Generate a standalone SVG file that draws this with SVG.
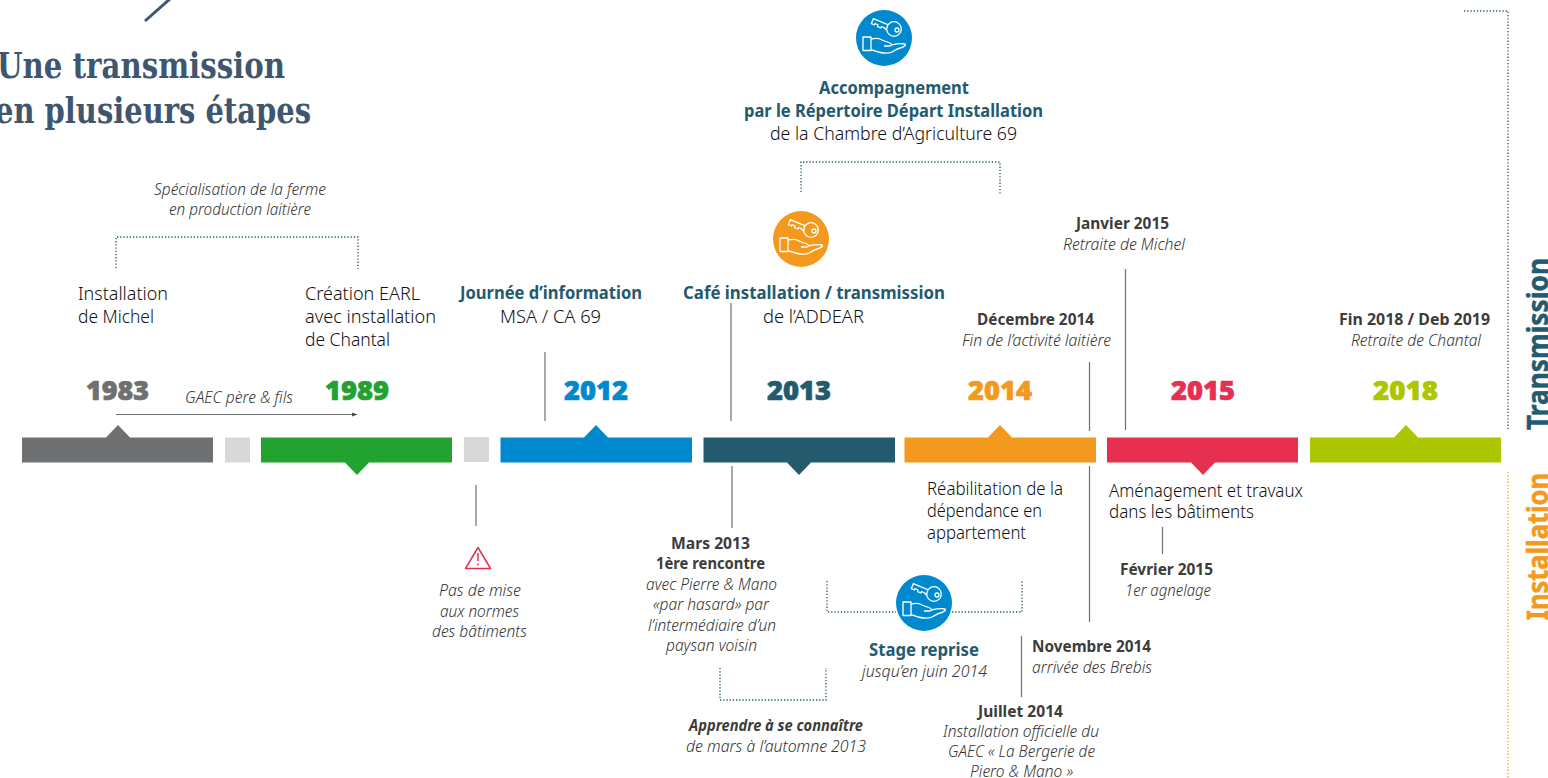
<svg xmlns="http://www.w3.org/2000/svg" xmlns:xlink="http://www.w3.org/1999/xlink" width="1548" height="778" viewBox="0 0 1548 778">
<style>
text{font-family:"Noto Sans","Liberation Sans",sans-serif;font-size:18px;fill:#111;font-weight:300}
.title{font-family:"DejaVu Serif",serif;font-size:35px;font-weight:700;fill:#3f5671}
.h{font-weight:700;fill:#235a6e}
.b{font-weight:700;fill:#3c3c3b;font-size:15.5px}
.i{font-style:italic;fill:#333;font-size:15.5px}
.bi{font-style:italic;font-weight:700;fill:#3c3c3b;font-size:15.5px}
.y{font-size:27px;font-weight:900;stroke-width:.7}
.side{font-weight:700;font-size:28px;stroke-width:.5}
.dot{fill:none;stroke:#235a6e;stroke-width:1.300;stroke-dasharray:1.300 1.900}
.ln{fill:none;stroke:#6f7072;stroke-width:1.200}
.ic{fill:none;stroke:#fff;stroke-width:1.300;stroke-linejoin:round}
</style>
<defs>
<marker id="ah" markerWidth="5" markerHeight="5" refX="4" refY="2.500" orient="auto"><path d="M0 0.800L4 2.500L0 4.200z" fill="#3c3c3b"/></marker>
<g id="key">
<rect x="-21" y="-1" width="8" height="13.500" class="ic"/>
<path class="ic" d="M-13 1C-8 0-5 0-2 2C0 3 3 4 6 5C8 6 8 8 5 8L0 8M7 7C12 6 17 5 21 6C22 7 21 8 19 9C15 10 11 12 8 14C4 16-2 15-6 14C-9 13-11 12-13 12"/>
<circle class="ic" cx="10" cy="-9" r="7.300"/><circle class="ic" cx="13" cy="-8" r="2"/>
<path class="ic" d="M3.800-13.300L-10.700-19.300L-12.700-14.300L-9.500-13L-9-14.500L-6-13L-6.500-11.300L-3-10L-2.500-11.500L0-10.500L2.400-8"/>
</g>
</defs>

<g id="title">
<text class="title" x="-3" y="78" textLength="288" lengthAdjust="spacingAndGlyphs">Une transmission</text>
<text class="title" x="-5" y="123" textLength="316" lengthAdjust="spacingAndGlyphs">en plusieurs étapes</text>
</g>

<g id="connectors">
<path d="M145 21L171 -2" fill="none" stroke="#3f5671" stroke-width="3"/>
<path class="dot" d="M116 268V237H358V269"/>
<path class="dot" d="M801 192V162H1000V194"/>
<path class="dot" d="M827 581V612H896M952 612H1022V581"/>
<path class="dot" d="M720 668V700H826V668"/>
<path class="dot" d="M1464 11H1508V430"/>
<path class="dot" d="M1508 472V778" style="stroke:#f39a1e"/>
<path class="ln" d="M116 414.500H357" marker-end="url(#ah)"/>
<path class="ln" d="M545 352V421M731 303V421M1089.500 362V431M1125.500 269V430M732 466V528M476 485V526M1089.500 466V622M1162.500 527V554M1021.500 636V697"/>
</g>

<g id="bar-1983"><path fill="#6f7072" d="M22 437.500H106L118 425L130 437.500H213V462.500H22z"/><text class="y" style="fill:#6f7072;stroke:#6f7072" x="86" y="400" textLength="63" lengthAdjust="spacingAndGlyphs">1983</text></g>
<g id="gap-1"><rect x="225" y="437.500" width="25" height="25" fill="#d7d8da"/></g>
<g id="bar-1989"><path fill="#22a32f" d="M261 437.500H452V462.500H369L357 475L345 462.500H261z"/><text class="y" style="fill:#22a32f;stroke:#22a32f" x="325" y="400" textLength="64" lengthAdjust="spacingAndGlyphs">1989</text></g>
<g id="gap-2"><rect x="464" y="437" width="25" height="25" fill="#d7d8da"/></g>
<g id="bar-2012"><path fill="#0089cf" d="M500.500 437.500H584L596 425L608 437.500H692V462.500H500.500z"/><text class="y" style="fill:#0089cf;stroke:#0089cf" x="564" y="400" textLength="64" lengthAdjust="spacingAndGlyphs">2012</text></g>
<g id="bar-2013"><path fill="#235a6e" d="M703.500 437.500H895V462.500H811L799 475L787 462.500H703.500z"/><text class="y" style="fill:#235a6e;stroke:#235a6e" x="767" y="400" textLength="64" lengthAdjust="spacingAndGlyphs">2013</text></g>
<g id="bar-2014"><path fill="#f39a1e" d="M904.500 437.500H988L1000 425L1012 437.500H1096V462.500H904.500z"/><text class="y" style="fill:#f39a1e;stroke:#f39a1e" x="968" y="400" textLength="64" lengthAdjust="spacingAndGlyphs">2014</text></g>
<g id="bar-2015"><path fill="#e7304f" d="M1107 437.500H1298V462.500H1215L1203 475L1191 462.500H1107z"/><text class="y" style="fill:#e7304f;stroke:#e7304f" x="1171" y="400" textLength="64" lengthAdjust="spacingAndGlyphs">2015</text></g>
<g id="bar-2018"><path fill="#acc700" d="M1310 437.500H1394L1406 425L1418 437.500H1501V462.500H1310z"/><text class="y" style="fill:#acc700;stroke:#acc700" x="1373" y="400" textLength="65" lengthAdjust="spacingAndGlyphs">2018</text></g>

<g id="icon-top"><circle cx="884" cy="38" r="28" fill="#0089cf"/><use xlink:href="#key" href="#key" transform="translate(884 38)"/></g>
<g id="icon-cafe"><circle cx="801" cy="239" r="28" fill="#f39a1e"/><use xlink:href="#key" href="#key" transform="translate(801 239)"/></g>
<g id="icon-stage"><circle cx="924" cy="603" r="28" fill="#0089cf"/><use xlink:href="#key" href="#key" transform="translate(924 603)"/></g>
<g id="warning"><path d="M478 547.500L490.500 568.500H465.500z" fill="none" stroke="#e7304f" stroke-width="1.500" stroke-linejoin="round"/><path d="M478 553V561M478 563.500V565.500" stroke="#e7304f" stroke-width="1.500" fill="none"/></g>

<g id="n-specialisation">
<text class="i" x="154" y="195" textLength="172" lengthAdjust="spacingAndGlyphs">Spécialisation de la ferme</text>
<text class="i" x="169" y="215" textLength="142" lengthAdjust="spacingAndGlyphs">en production laitière</text>
</g>
<g id="n-michel">
<text x="78" y="300" textLength="90" lengthAdjust="spacingAndGlyphs">Installation</text>
<text x="78" y="323" textLength="76" lengthAdjust="spacingAndGlyphs">de Michel</text>
</g>
<g id="n-earl">
<text x="305" y="300" textLength="115" lengthAdjust="spacingAndGlyphs">Création EARL</text>
<text x="305" y="323" textLength="131" lengthAdjust="spacingAndGlyphs">avec installation</text>
<text x="305" y="346" textLength="85" lengthAdjust="spacingAndGlyphs">de Chantal</text>
</g>
<g id="n-gaec"><text class="i" x="185" y="403" textLength="108" lengthAdjust="spacingAndGlyphs">GAEC père &amp; fils</text></g>
<g id="n-journee">
<text class="h" x="460" y="299" textLength="182" lengthAdjust="spacingAndGlyphs">Journée d’information</text>
<text x="500" y="323" textLength="101" lengthAdjust="spacingAndGlyphs">MSA / CA 69</text>
</g>
<g id="n-cafe">
<text class="h" x="683" y="299" textLength="262" lengthAdjust="spacingAndGlyphs">Café installation / transmission</text>
<text x="763" y="323" textLength="101" lengthAdjust="spacingAndGlyphs">de l’ADDEAR</text>
</g>
<g id="n-rdi">
<text class="h" x="819" y="94" textLength="150" lengthAdjust="spacingAndGlyphs">Accompagnement</text>
<text class="h" x="744" y="117" textLength="299" lengthAdjust="spacingAndGlyphs">par le Répertoire Départ Installation</text>
<text x="770" y="140" textLength="247" lengthAdjust="spacingAndGlyphs">de la Chambre d’Agriculture 69</text>
</g>
<g id="n-janvier">
<text class="b" x="1076" y="229" textLength="93" lengthAdjust="spacingAndGlyphs">Janvier 2015</text>
<text class="i" x="1063" y="250" textLength="122" lengthAdjust="spacingAndGlyphs">Retraite de Michel</text>
</g>
<g id="n-decembre">
<text class="b" x="977" y="325" textLength="117" lengthAdjust="spacingAndGlyphs">Décembre 2014</text>
<text class="i" x="962" y="346" textLength="149" lengthAdjust="spacingAndGlyphs">Fin de l’activité laitière</text>
</g>
<g id="n-fin">
<text class="b" x="1339" y="325" textLength="151" lengthAdjust="spacingAndGlyphs">Fin 2018 / Deb 2019</text>
<text class="i" x="1351" y="346" textLength="130" lengthAdjust="spacingAndGlyphs">Retraite de Chantal</text>
</g>
<g id="n-pas">
<text class="i" x="439" y="596" textLength="82" lengthAdjust="spacingAndGlyphs">Pas de mise</text>
<text class="i" x="440" y="617" textLength="79" lengthAdjust="spacingAndGlyphs">aux normes</text>
<text class="i" x="432" y="637" textLength="95" lengthAdjust="spacingAndGlyphs">des bâtiments</text>
</g>
<g id="n-mars">
<text class="b" x="671" y="549" textLength="79" lengthAdjust="spacingAndGlyphs">Mars 2013</text>
<text class="b" x="656" y="569" textLength="109" lengthAdjust="spacingAndGlyphs">1ère rencontre</text>
<text class="i" x="646" y="590" textLength="131" lengthAdjust="spacingAndGlyphs">avec Pierre &amp; Mano</text>
<text class="i" x="653" y="610" textLength="116" lengthAdjust="spacingAndGlyphs">«par hasard» par</text>
<text class="i" x="648" y="631" textLength="128" lengthAdjust="spacingAndGlyphs">l’intermédiaire d’un</text>
<text class="i" x="666" y="651" textLength="91" lengthAdjust="spacingAndGlyphs">paysan voisin</text>
</g>
<g id="n-apprendre">
<text class="bi" x="689" y="731" textLength="174" lengthAdjust="spacingAndGlyphs">Apprendre à se connaître</text>
<text class="i" x="686" y="752" textLength="180" lengthAdjust="spacingAndGlyphs">de mars à l’automne 2013</text>
</g>
<g id="n-rehab">
<text x="927" y="495" textLength="136" lengthAdjust="spacingAndGlyphs">Réabilitation de la</text>
<text x="927" y="517" textLength="115" lengthAdjust="spacingAndGlyphs">dépendance en</text>
<text x="927" y="539" textLength="99" lengthAdjust="spacingAndGlyphs">appartement</text>
</g>
<g id="n-amenagement">
<text x="1109" y="497" textLength="194" lengthAdjust="spacingAndGlyphs">Aménagement et travaux</text>
<text x="1109" y="518" textLength="145" lengthAdjust="spacingAndGlyphs">dans les bâtiments</text>
</g>
<g id="n-fevrier">
<text class="b" x="1120" y="575" textLength="93" lengthAdjust="spacingAndGlyphs">Février 2015</text>
<text class="i" x="1125" y="596" textLength="86" lengthAdjust="spacingAndGlyphs">1er agnelage</text>
</g>
<g id="n-stage">
<text class="h" x="869" y="656" textLength="110" lengthAdjust="spacingAndGlyphs">Stage reprise</text>
<text class="i" x="862" y="677" textLength="125" lengthAdjust="spacingAndGlyphs">jusqu’en juin 2014</text>
</g>
<g id="n-novembre">
<text class="b" x="1032" y="652" textLength="119" lengthAdjust="spacingAndGlyphs">Novembre 2014</text>
<text class="i" x="1032" y="673" textLength="120" lengthAdjust="spacingAndGlyphs">arrivée des Brebis</text>
</g>
<g id="n-juillet">
<text class="b" x="978" y="717" textLength="85" lengthAdjust="spacingAndGlyphs">Juillet 2014</text>
<text class="i" x="943" y="737" textLength="156" lengthAdjust="spacingAndGlyphs">Installation officielle du</text>
<text class="i" x="948" y="757" textLength="147" lengthAdjust="spacingAndGlyphs">GAEC « La Bergerie de</text>
<text class="i" x="970" y="777" textLength="103" lengthAdjust="spacingAndGlyphs">Piero &amp; Mano »</text>
</g>
<g id="side-labels">
<text class="side" style="fill:#235a6e;stroke:#235a6e" transform="translate(1547.500 430) rotate(-90)" textLength="172" lengthAdjust="spacingAndGlyphs">Transmission</text>
<text class="side" style="fill:#f39a1e;stroke:#f39a1e" transform="translate(1547.500 620) rotate(-90)" textLength="147" lengthAdjust="spacingAndGlyphs">Installation</text>
</g>
</svg>
